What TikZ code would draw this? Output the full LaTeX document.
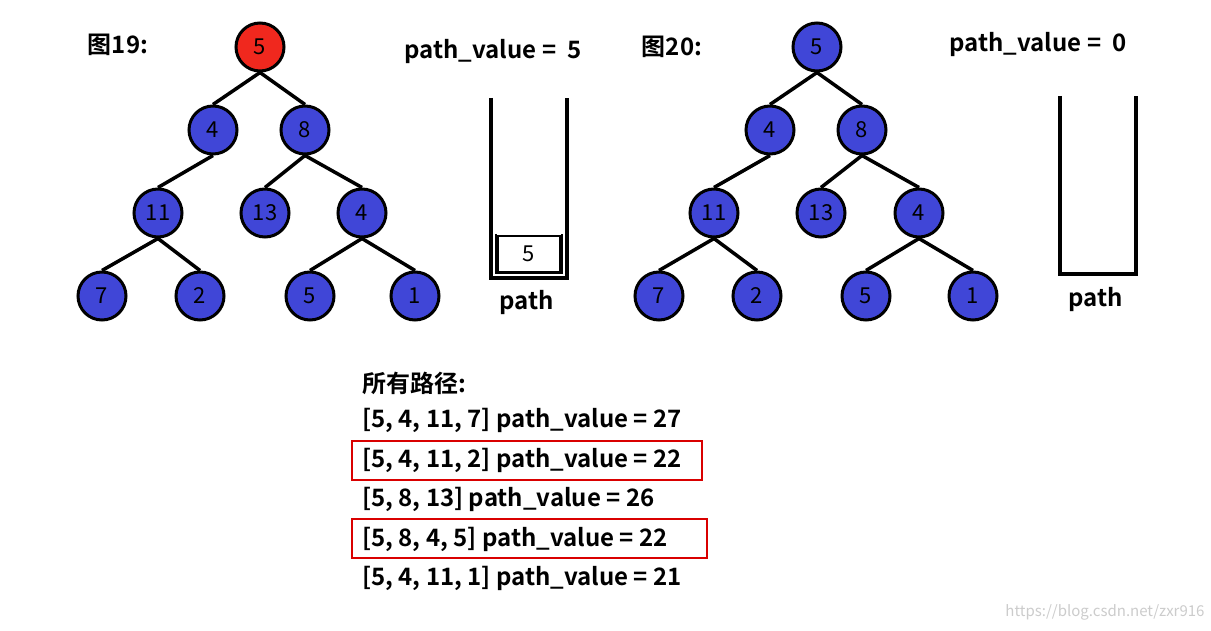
\documentclass[tikz,border=0pt]{standalone}
\usepackage{fontspec}
\setmainfont{Noto Sans CJK SC}[BoldFont={* Bold}]
\begin{document}
\begin{tikzpicture}[x=1pt,y=-1pt,
  tn/.style={circle,draw=black,line width=3pt,fill={rgb,255:red,64;green,70;blue,215},minimum size=48pt,inner sep=0pt,font=\fontsize{22}{22}\selectfont},
  rn/.style={tn,fill={rgb,255:red,240;green,40;blue,30}},
  ed/.style={line width=3.5pt},
  lab/.style={font=\bfseries\fontsize{24}{28}\selectfont,inner sep=0pt},
  wall/.style={line width=3.2pt},
  hl/.style={draw=red!85!black,line width=2.6pt}]
\useasboundingbox (0,0) rectangle (1211,631);
\fill[white] (0,0) rectangle (1211,631);
% left tree
\node[rn] (a) at (260,47) {5};
\node[tn] (b) at (213,130) {4};
\node[tn] (c) at (305,130) {8};
\node[tn] (d) at (158,213) {11};
\node[tn] (e) at (265,213) {13};
\node[tn] (f) at (362,213) {4};
\node[tn] (g) at (102,296) {7};
\node[tn] (h) at (200,296) {2};
\node[tn] (i) at (310,296) {5};
\node[tn] (j) at (415,296) {1};
\foreach \p/\q in {a/b,a/c,b/d,c/e,c/f,d/g,d/h,f/i,f/j} \draw[ed] (\p.south) -- (\q.north);
% right tree
\node[tn] (A) at (817,47) {5};
\node[tn] (B) at (770,130) {4};
\node[tn] (C) at (862,130) {8};
\node[tn] (D) at (714,213) {11};
\node[tn] (E) at (821,213) {13};
\node[tn] (F) at (919,213) {4};
\node[tn] (G) at (659,296) {7};
\node[tn] (H) at (757,296) {2};
\node[tn] (I) at (866,296) {5};
\node[tn] (J) at (973,296) {1};
\foreach \p/\q in {A/B,A/C,B/D,C/E,C/F,D/G,D/H,F/I,F/J} \draw[ed] (\p.south) -- (\q.north);
% labels
\node[lab] (t19) at (118,45) {图19:};
\node[lab] (pv1) at (493,52) {path\_value =\ \ 5};
\node[lab] (t20) at (672,47) {图20:};
\node[lab] (pv2) at (1038,45) {path\_value =\ \ 0};
% stacks
\draw[wall] (491,98) -- (491,278) -- (567,278) -- (567,98);
\draw[line width=2.5pt] (496,234) -- (496,273) -- (562,273) -- (562,234);
\node[draw,line width=2.8pt,minimum width=62pt,minimum height=36pt,inner sep=0pt,font=\fontsize{22}{22}\selectfont] (s5) at (529,254) {5};
\node[lab] (p1) at (527,303) {path};
\draw[wall] (1060,96) -- (1060,274) -- (1136,274) -- (1136,96);
\node[lab] (p2) at (1096,300) {path};
% list
\begin{scope}[every node/.style={lab,anchor=west}]
\node (l0) at (362,383) {所有路径:};
\node (l1) at (362,420) {[5, 4, 11, 7] path\_value = 27};
\node (l2) at (362,460) {[5, 4, 11, 2] path\_value = 22};
\node (l3) at (362,499) {[5, 8, 13] path\_value = 26};
\node (l4) at (362,539) {[5, 8, 4, 5] path\_value = 22};
\node (l5) at (362,578) {[5, 4, 11, 1] path\_value = 21};
\end{scope}
\draw[hl] (352,441) rectangle (702,480);
\draw[hl] (352,519) rectangle (707,558);
\node[text=gray!40,font=\fontsize{15}{15}\selectfont] (wm) at (1105,612) {https://blog.csdn.net/zxr916};
\end{tikzpicture}
\end{document}
